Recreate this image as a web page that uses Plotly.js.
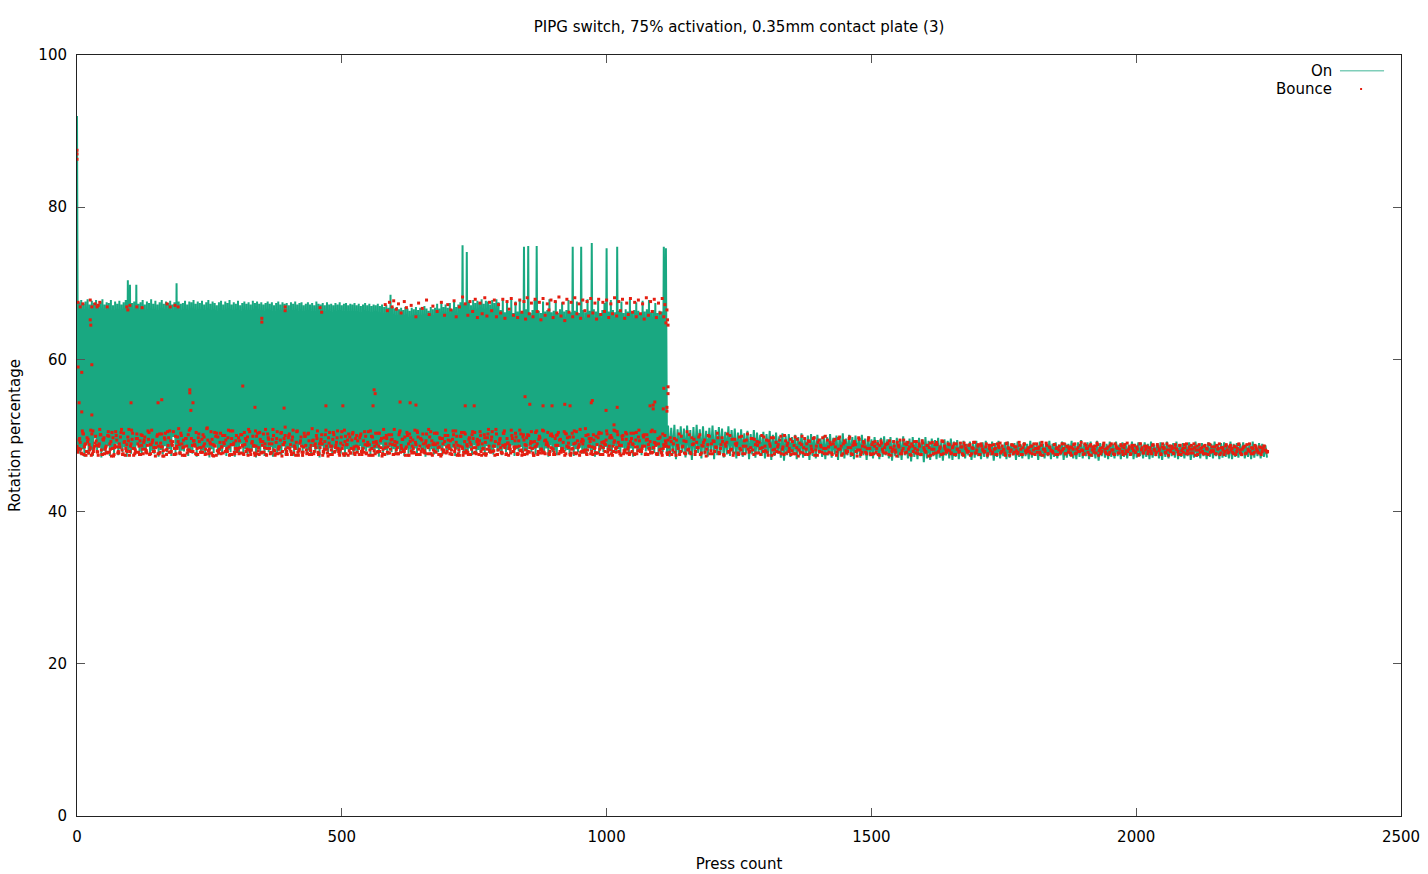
<!DOCTYPE html>
<html>
<head>
<meta charset="utf-8">
<script src="https://cdn.plot.ly/plotly-3.0.1.min.js"></script>
<style>html,body{margin:0;padding:0;background:#fff;}#chart{width:1428px;height:874px;}</style>
</head>
<body>
<div id="chart"></div>
<script>
// "On" rotation percentage, presses 0..1114 (every 2nd press)
const onStepA = 2;
const onA = [
92,48,67.5,47.6,67.8,48.2,67.3,47.2,67.6,48.8,67.9,47.5,67.2,48.1,67.7,47.3,67.4,49.6,67.8,47.8,
67.3,48.4,67.6,47.1,67.9,48,67.2,47.7,67.5,48.6,67.4,47.3,67.8,48.1,67.1,47.6,67.6,48.9,67.3,47.4,
67.7,48.2,67.2,47.8,67.5,48.5,67.8,47.2,70.4,48,69.8,47.6,67.4,48.3,67.6,47.5,69.8,48.7,67.3,47.9,
67.5,47.4,67.8,48.2,67.2,47.7,67.6,48.9,67.4,47.3,67.9,48,67.3,47.6,67.7,48.4,67.2,47.2,67.5,48.1,
67.8,47.5,67.3,48.6,67.6,47.8,67.4,48.2,67.7,47.3,67.2,49.8,67.5,47.7,70,48.3,67.6,47.4,67.3,48,
67.4,47.9,67.7,48.5,67.2,47.3,67.6,48.1,67.5,47.6,67.8,48.7,67.3,47.2,67.6,48.3,67.4,47.8,67.7,48,
67.2,47.5,67.5,48.4,67.8,47.1,67.3,48.2,67.6,47.7,67.4,48.8,67.1,47.4,67.5,48,67.7,47.6,67.2,48.5,
67.6,47.3,67.4,48.1,67.8,47.8,67.2,48.6,67.5,47.2,67.3,48.3,67.7,47.5,67.1,48.9,67.4,47.7,67.6,48.2,
67.3,47.4,67.5,48,67.2,47.9,67.7,48.4,67.4,47.1,67.6,48.2,67.3,47.6,67.5,48.7,67.2,47.3,67.4,48.1,
67.6,47.8,67.3,48.5,67.5,47.2,67.1,48.3,67.4,47.7,67.6,48,67.2,47.4,67.5,48.6,67.3,47.5,67.4,48.2,
67.1,47.9,67.5,48.4,67.3,47.3,67.6,48.1,67.2,47.6,67.4,48.8,67.5,47.2,67.1,48.3,67.3,47.7,67.5,48,
67.2,47.4,67.4,48.5,67.1,47.8,67.6,48.2,67.3,47.1,67.2,48.6,67.4,47.5,67.1,48,67.5,47.7,67.2,48.3,
67.3,47.3,67.1,48.4,67.4,47.9,67.2,48.1,67.5,47.6,67.1,48.7,67.3,47.2,67.4,48.2,67.1,47.8,67.3,48.5,
67.2,47.4,67.4,48,67.1,47.7,67.3,48.6,67,47.3,67.2,48.2,67.4,47.9,67.1,48.4,67.3,47.5,67,48.1,
67.2,47.6,67.1,48.3,67.3,47.2,67,48.8,67.2,47.7,66.9,48.1,67.1,47.4,66.8,48.5,68.5,47.8,66.9,48.2,
66.7,47.5,66.9,48.4,66.6,47.9,66.8,48,66.5,47.3,66.9,48.6,66.7,47.6,66.4,48.2,66.8,47.8,66.6,48.3,
66.9,47.4,66.5,48.7,66.8,47.7,66.6,48.1,67,47.2,66.7,48.5,66.4,47.9,66.9,48.2,66.6,47.5,66.8,48,
67.3,47.8,66.7,48.3,67.5,47.4,66.9,48.6,67.2,47.6,66.8,48.1,67.4,47.9,66.6,48.4,67.6,47.3,66.9,48.2,
67.2,47.7,67.5,48.5,75,47.5,67.3,48,74.1,47.9,67.6,48.3,67.1,47.4,67.8,48.7,67.4,47.6,67.7,48.1,
67.5,47.8,67.9,48.2,67.3,47.3,67.7,48.6,67.6,47.7,67.2,48.1,67.8,47.5,67.4,48.4,67.9,47.9,67.5,48,
66.5,47.4,67.8,48.3,66.2,47.8,67.5,48.1,66.4,47.6,67.9,48.7,66.1,47.3,67.6,48.2,66.3,47.9,67.7,48.5,
66.2,47.7,74.8,48,66.6,47.4,74.9,48.6,66.1,47.8,66.5,48.2,67.8,47.5,74.9,48.4,66.4,47.9,66.1,48.1,
67.6,47.6,66.3,48.3,66.5,47.2,67.9,48.7,66.2,47.8,66.4,48,67.7,47.4,66.1,48.5,66.6,47.7,67.5,48.2,
66.3,47.9,66.5,48.1,67.8,47.5,66.2,48.6,74.8,47.3,66.4,48.2,67.6,47.8,66.1,48.4,74.8,47.6,66.5,48,
66.2,47.4,67.9,48.3,66.4,47.9,75.3,48.1,66.6,47.2,66.3,48.7,67.7,47.6,66.1,48.2,66.5,47.8,67.4,48.5,
74.6,47.7,66.3,48,67.8,47.3,66.5,48.6,66.2,47.9,74.8,48.2,66.4,47.5,67.6,48.4,66.1,47.7,66.6,48.1,
66.3,47.6,67.9,48.3,66.2,47.2,66.5,48.7,67.5,47.8,66.4,48,66.1,47.4,67.7,48.5,66.3,47.9,66.6,48.2,
67.8,47.5,66.2,48.1,66.5,47.7,67.4,48.6,66.1,47.3,66.4,48.2,66.3,47.8,74.8,48.4,74.6,47.6
];
// "On" rotation percentage, presses 1116..2247 (every 3rd press)
const onStartB = 1116;
const onStepB = 3;
const onB = [
51.3,47.2,51,47.6,51.4,46.9,50.8,47.4,51.2,47.8,50.9,47.1,51.3,47.5,50.7,46.8,51.1,47.3,51.4,47.7,
50.8,47,51.2,47.5,50.6,47.2,51,47.8,51.3,46.9,50.7,47.4,51.1,47.6,50.9,47.1,50.5,47.5,51.2,47.3,
50.7,47.7,50.9,47,50.4,47.4,50.8,47.2,50.3,47.6,50.6,46.9,50.2,47.5,50.7,47.1,50.4,47.8,50.1,47.3,
50.5,47,50.2,47.5,50.6,46.8,50.1,47.3,50.4,47.6,49.9,47.1,50.3,46.7,50,47.4,50.2,47.2,49.8,47.6,
50.1,46.9,49.8,47.4,50.3,47.1,49.7,47.5,50,46.8,50.2,47.3,49.9,47,50.1,47.6,49.6,47.2,50,46.9,
49.8,47.4,50.2,47.1,49.7,47.5,50,46.8,49.9,47.3,50.3,47,49.6,47.4,50.1,47.2,49.8,46.9,50,47.5,
49.7,47.1,50.1,47.4,49.6,46.8,49.9,47.3,49.5,47,49.8,47.5,49.4,46.9,49.7,47.2,49.9,47.4,49.5,47,
49.8,46.7,49.4,47.3,49.7,47.1,49.5,46.8,49.9,47.4,49.3,47,49.6,46.6,49.8,47.2,49.4,46.9,49.7,47.3,
49.5,46.5,49.8,47,49.3,46.8,49.6,47.3,49.4,46.9,49.7,47.1,49.2,46.7,49.5,47.4,49.3,47,49.6,46.8,
49.2,47.2,49.4,46.9,49.1,47.3,49.3,47,48.9,47.4,49.2,46.8,49,47.1,49.3,47.3,48.9,46.9,49.1,47.2,
49.3,47,48.9,47.4,49.2,46.7,49,47.2,49.3,47,48.8,47.3,49.1,46.9,49.2,47.1,48.9,47.4,49,46.8,
49.2,47.2,48.8,47,49.1,47.3,48.9,46.9,49.3,47.1,49,47.4,48.8,46.8,49.2,47.2,48.9,47,49.1,47.3,
49.3,46.9,48.9,47.2,49.1,47,48.8,47.4,49.2,46.8,49,47.1,48.9,47.3,49.3,47,48.8,46.9,49.1,47.2,
49.4,47,48.9,47.3,49.1,46.9,49.2,47.2,48.8,47,49.3,46.7,49,47.3,49.1,47.1,48.9,46.9,49.2,47.2,
48.9,47,49.2,47.3,48.8,46.9,49.1,47.2,49,47,48.8,47.4,49.2,46.9,48.9,47.1,49.1,47.3,48.8,47,
49.1,47.2,48.9,46.9,49.2,47.1,48.8,47.3,49,47,49.1,46.8,48.9,47.2,49.2,47,48.8,47.3,49,47.1,
49.2,46.9,48.8,47.2,49,47,48.9,47.3,49.1,46.8,48.8,47.1,49.2,47.2,48.9,47,49,47.3,48.8,46.9,
49.1,47.2,48.9,47,49.2,47.3,48.8,46.9,49,47.1,49.1,47.2,48.8,47,49.2,46.9,48.9,47.2,49,47.1,
48.9,47.3,49.1,47,48.8,47.2,49,46.9,49.2,47.1,48.8,47.3,49,47,48.9,47.2,48.7,47.1
];
// Bounce rotation percentage, low band, presses 0,3,6,...
const bounceStep = 3;
const bounceLo1 = [
48.6,48.3,49.1,47.6,50.2,48.8,47.9,49.5,48.1,47.4,50.6,48.6,49.3,47.8,48.9,50.1,47.5,49.7,48.4,47.7,49.9,48.2,50.4,47.3,48.7,
49.4,47.9,48.5,50.8,47.6,49.2,48,49.8,47.4,48.9,50.3,48.3,47.8,49.6,48.6,47.5,50,49.1,48.2,47.7,49.5,48.8,50.7,47.9,48.4,
49,47.6,50.2,48.5,47.3,49.7,48.1,50.5,47.8,49.3,48.7,47.5,49.9,48.3,50.9,47.7,48.9,49.4,47.4,48.6,50.1,48,49.6,47.9,48.8,
50.4,47.5,49.2,48.4,47.8,49.8,48.2,51,47.6,48.9,49.5,47.3,48.6,50.3,47.9,49.1,48.5,47.7,50,48.1,49.7,47.4,48.8,50.6,47.8,
49.3,48.3,47.6,50.1,48.7,47.5,49.6,48.2,50.8,47.9,49,48.6,47.4,49.9,48,50.4,47.7,49.2,48.4,47.5,50.2,48.9,47.8,49.5,48.1,
47.6,50.5,48.5,49.4,47.3,48.8,50,47.9,49.7,48.3,47.5,50.7,48.6,49.1,47.8,48.2,49.8,47.4,50.3,48.7,47.7,49.3,48,50.9,47.6,
48.9,49.6,47.5,48.4,50.1,47.9,49.2,48.6,47.3,50.4,48.1,49.5,47.8,48.7,50.6,47.6,49,48.3,47.4,49.9,48.8,50.2,47.7,49.4,48.2,
47.5,50,48.5,49.7,47.9,48.3,50.5,47.6,49.1,48.8,47.4,49.8,48,50.3,47.8,48.6,49.3,47.3,50.8,48.4,49.6,47.7,48.9,50.1,47.5,
49.2,48.1,47.6,50.4,48.7,49.5,47.9,48.3,50,47.4,49.7,48.6,47.8,49.1,50.6,48.2,47.5,49.4,48.9,47.7,50.2,48.4,49.8,47.6,48.8,
50.3,47.8,49,48.5,47.3,49.6,48.1,50.7,47.9,48.7,49.3,47.5,50.1,48.3,49.9,47.6,48.6,50.4,47.4,49.2,48,47.8,49.7,48.8,50.5,
47.7,48.4,49.5,47.5,50,48.9,47.6,49.1,48.2,50.8,47.9,49.8,48.6,47.4,50.2,48.1,49.4,47.8,48.7,50.6,47.5,49,48.3,47.7,49.6,
48.5,50.3,47.6,49.3,48,47.4,50.1,48.8,49.7,47.9,48.4,50.5,47.7,49.2,48.6,47.5,49.9,48.2,50.7,47.8,49.4,48.9,47.6,50,48.3,
47.5,49.6,48.7,50.4,47.9,48.1,49.1,47.4,50.2,48.5,49.8,47.7,48.3,50.6,47.6,49.3,48.8,47.8,49.5,48,50.9,47.5,48.6,49.2,47.9,
50.1,48.4,47.7,49.7,48.2,50.3,47.5,48.9,49.4,47.8,48.6,50,47.4,49.1,48.3,50.5,47.9,48.7,49.9,47.6,48.1,50.2,48.5,47.7,49.6,
48.8,47.5,50.4,48,49.3,47.9,48.6,50.1,47.6,49.5,48.2,47.8,50.7,48.4,49,47.5,48.9,49.8,47.7,48.3,50,48.6,49.4,47.8,49.2,
48.1,49.6,47.4,48.7,50.2,47.9,48.5,49.3,47.6,50.5,48.2,47.8,49.7,48.9,47.5,49.1,48.4,50.1,47.7,48.6,49.4,47.3,48.8,49.9,48,
47.6,49.2,48.5,50.3,47.8,48.3,49.7,47.5,48.9,49.1,47.9,50,48.2,47.4,49.5,48.7,47.7,49.8,48.1,47.6,49.3,48.6,50.2,47.8,48.4,
49.6,47.5,48.8,49.2,47.7,48.3,50,47.9,48.6,49.4,47.4,48.9,49.7,48.1,47.6,49.1,48.5,47.8,49.9,48.2,47.5,49.3,48.7,47.9,49.5,
48,47.6,49.8,48.4,47.3,49,48.8,47.7,49.6,48.2,47.5,49.2,48.6,47.9,49.7,48.1,47.4,49.4,48.7,47.8,48.3,49.9,47.6,48.5,49.1,
47.7,48.9,49.5,47.4,48.2,49.8,48.6,47.6,49.3,48,47.9,49.6,48.4,47.5,49,48.8,47.3,49.7,48.1,47.8,49.2,48.5,47.6,49.4,48.3,
47.5,49.1,48.6,47.8,48.9,47.4,49.3,48.2,47.7,48.8,49,47.5,48.4,47.9,49.2,48.1,47.3,48.7,49.4,47.6,48.3,48.9,47.8,49.1,48.5,
47.4,48.6,49.2,47.7,48.1,48.9,47.5,49.3,48.4,47.9,48.7,47.3,49,48.2,47.6,48.8,49.1,47.8,48.3,47.5,49.2,48.6,47.9,48.1,48.8,
47.6,48.4,48.9,47.5,48.2,47.8,49,48.5,47.4,48.7,48.1,47.9,48.8,47.6,48.3,49.1,47.7,48.6,47.5,48.9,48.2,47.8,48.5,47.4,48.7,
48,47.6,48.8,48.3,47.5,48.6,49,47.9,48.2,47.7,48.9,48.4,47.4,48.1,48.7,47.8,48.5,47.6,49.1,48.2,47.5,48.8,48,47.9,48.4,
47.7,48.6,48.1,47.5,48.9,48.3,47.8,48.7,47.4,48.2,49,47.6,48.5,48,47.9,48.8,47.5,48.4,48.1,47.7,48.9,48.3,47.6,48.6,47.8,
48.5,47.4,48.2,48.9,47.7,48.4,47.9,49.1,48,47.6,48.7,48.3,47.5,48.8,48.1,47.8,48.6,49,47.4,48.3,47.9,48.7,48.2,47.6,48.5,
47.8,48.9,48.1,47.5,48.6,48.3,47.7,48.8,47.9,48.4,47.6,49,48.2,47.5,48.7,48,47.8,48.5,47.4,48.9,48.1,47.7,48.6,48.3,47.6,
48.4,47.9,48.7,48.2,47.5,48.8,48,47.6,48.5,48.3,47.8,48.9,47.4,48.1,48.6,47.7,48.4,48.2,47.9,48.7,47.5,48.3,48.8,47.6,48,
48.5,47.7,48.2,48.9,47.4,48.6,48.1,47.8,48.4,47.6,48.7,48.3,47.5,48.8,48,47.9,48.5,47.6,48.2,48.9,47.7,48.4,47.5,48.6,48.1,
47.8,48.7,48.3,47.6,48.5,47.9,48.8,48.1,47.5,48.4,48.6,47.7,48.2,48.9,47.6,48.3,47.8,48.5,48,47.7,48.4,47.9,48.6,48.1,47.8
];
// Bounce rotation percentage, low band, presses 1,4,7,...
const bounceLo2 = [
47.8,49.4,48.2,50.6,47.5,48.9,49.7,47.7,48.4,50.2,47.9,49,48.7,47.4,50.8,48.1,49.5,47.6,48.6,50,47.8,49.2,48.3,47.5,50.5,
48.5,47.7,49.8,48.1,50.3,47.4,48.8,49.3,47.9,50.7,48.3,47.6,49.6,48.9,47.5,50.1,48.2,49.4,47.8,48.7,50.4,47.6,49.1,48.4,47.3,
49.9,48.6,47.8,50.2,48,49.5,47.5,48.7,50.6,47.9,49.2,48.3,47.6,49.8,48.8,50.3,47.4,48.5,49.6,47.7,48.1,50.9,47.9,49.3,48.6,
47.5,49.7,48.4,47.8,50.1,48.9,47.6,49.4,48.2,50.5,47.4,48.7,49.9,48,47.7,50.3,48.5,49.1,47.9,48.3,50.7,47.5,49.6,48.8,47.6,
50,48.2,49.3,47.7,48.6,50.4,47.9,49.8,48.1,47.5,49.2,48.7,50.6,47.6,48.4,49.5,47.8,50.2,48.9,47.4,49.7,48.3,47.7,50.8,48,
49.1,47.6,48.5,50.3,47.9,49.6,48.2,47.5,50,48.8,49.4,47.7,48.3,50.5,47.4,49,48.6,47.8,49.9,48.1,50.2,47.5,48.7,49.3,47.9,
48.4,50.6,47.6,49.2,48.9,47.8,50.1,48.2,49.7,47.5,48.6,50.4,47.9,49.1,48.3,47.4,49.8,48.7,50.7,47.6,49.4,48,47.7,50.2,48.5,
49.6,47.8,48.3,50,47.5,49.3,48.8,47.7,50.5,48.1,49.9,47.4,48.6,49.2,47.9,50.3,48.4,47.6,49.7,48.9,47.8,50.1,48.2,49.5,47.5,
48.7,49.1,47.6,50.6,48.3,47.9,49.8,48.5,47.4,50.2,48,49.4,47.7,48.8,50.4,47.5,49.6,48.2,47.8,49,48.6,50.8,47.6,49.3,48.1,
47.9,50.3,48.4,49.7,47.5,48.9,49.2,47.7,50,48.3,47.6,49.5,48.7,50.6,47.4,48.1,49.9,48.5,47.8,50.2,48.8,47.5,49.1,48.2,49.6,
50.4,47.6,48.8,49.3,47.9,48.2,50.1,47.4,49.7,48.6,47.8,50.5,48,49.2,47.5,48.9,49.6,47.7,50.3,48.4,47.6,49,48.7,50.7,47.9,
48.3,49.8,47.5,48.6,50.2,47.8,49.4,48.1,47.6,50,48.9,49.1,47.4,48.5,50.6,47.9,49.7,48.2,47.7,49.3,48.8,50.4,47.5,48.4,49.9,
47.8,48.7,50.1,47.6,49.5,48.3,47.9,50.3,48.6,49,47.5,48.2,49.8,47.7,50.5,48.4,47.4,49.2,48.9,47.8,50,48.1,49.6,47.6,48.5,
49.4,47.7,48.8,50.2,47.5,49.1,48.4,47.9,50.6,48.2,49.7,47.6,48.6,49.3,47.8,50.1,48.7,47.4,49.5,48,50.4,47.7,48.9,49.2,47.9,
50.3,48.5,47.6,49.8,48.1,47.9,50,48.6,49.4,47.5,48.3,50.5,47.8,49.1,48.7,47.6,49.6,48.2,47.4,48.8,49.3,47.7,48.5,49.7,47.5,
48.9,47.8,49.4,48.3,47.5,49.9,48.6,47.7,49.2,48.1,50.1,47.6,48.8,49.5,47.9,48.4,49.8,47.5,48.7,49.1,47.8,48.2,50,47.6,48.9,
49.3,47.9,48.4,49.7,47.6,48.8,49.2,47.4,48.6,50.2,47.8,48.1,49.5,47.7,48.9,49,47.5,48.3,49.9,48.6,47.6,49.4,48.2,47.9,49.6,
48.1,49.5,47.7,48.7,49.1,47.5,48.4,49.8,48,47.8,49.3,48.6,47.4,49.7,48.2,47.9,48.8,49.4,47.6,48.5,50,47.7,49,48.3,47.5,
49.2,48.7,47.6,49.5,48.1,47.8,49.9,48.4,47.5,48.9,49.3,47.7,48.2,49.6,47.4,48.6,49.1,47.9,48.5,49.7,47.6,48.3,49.4,47.8,48.8,
47.5,49.3,48.5,47.8,49.6,48.2,47.4,48.9,49.1,47.7,48.4,49.8,47.6,48.7,49.2,47.9,48.1,49.5,47.5,48.6,49,47.8,48.3,49.7,47.6,
48.8,47.6,49.2,48.3,47.5,48.7,49,47.9,48.4,47.7,48.9,49.3,47.4,48.2,48.6,47.8,49.1,48.5,47.6,48,49.4,47.7,48.8,48.2,47.5,
48.9,47.9,48.3,49.2,47.6,48.6,47.5,49,48.1,47.8,48.7,48.4,47.4,49.1,48.2,47.7,48.8,47.9,48.5,49.3,47.6,48.3,47.8,48.9,48,
47.7,48.6,47.5,48.9,48.2,47.9,48.5,47.6,49,48.3,47.8,48.7,47.4,48.4,49.1,47.7,48.1,48.8,47.5,48.6,48,47.9,48.9,47.6,48.3,
48.7,47.8,48.2,47.5,48.9,48.4,47.7,48.6,48.1,47.4,49,48.3,47.9,48.8,47.6,48.5,48,47.8,48.7,47.5,48.4,48.9,47.7,48.2,47.9,
48.6,47.6,48.9,48.3,47.8,48.5,47.5,49.1,48.2,47.9,48.7,47.6,48.4,48,47.7,48.8,48.3,47.5,48.6,47.9,48.1,48.9,47.6,48.5,48.2,
47.7,48.4,48.8,47.6,48.2,47.9,48.7,48.1,47.5,48.9,48.3,47.8,48.6,47.4,48.5,48.2,47.7,48.8,48,47.6,48.4,49,47.8,48.3,47.5,
48.7,48.1,47.6,48.9,48.4,47.7,48.2,48.6,47.5,48.8,48,47.9,48.5,47.6,48.3,48.7,47.8,48.2,47.5,48.9,48.4,47.7,48.1,48.6,47.9,
48.3,47.6,48.8,48,47.8,48.5,48.2,47.5,48.9,48.4,47.7,48.1,48.6,47.9,48.3,47.6,48.8,48.2,47.5,48.7,48,47.8,48.4,48.9,47.6,
48.2,48.7,47.7,48.4,48.1,47.5,48.8,48.3,47.9,48.6,47.6,48.2,48.9,47.8,48.5,48,47.6,48.7,48.3,47.5,48.4,48.1,47.9,48.8,47.7,
48.5,48.1,47.8,48.6,47.5,48.3,48.9,47.7,48.2,48.5,47.6,48.8,48,47.9,48.4,47.6,48.7,48.2,47.8,48.5,47.5,48.3,48.6,48,47.9
];
// Bounce rotation percentage, low band, presses 2,5,8,... up to 1115
const bounceLo3 = [
48.1,49.6,47.7,50.3,48.5,47.4,49.2,48.8,50.7,47.6,48.3,49.9,47.9,48.6,50.1,47.5,49.4,48.2,47.8,50.5,48.9,47.3,49.7,48.4,50,
47.7,48.9,50.4,47.5,49.1,48.3,47.9,50.8,48.6,49.5,47.4,48.1,50.2,47.8,49.3,48.7,47.6,49.8,48,50.6,47.5,48.8,49.4,47.9,48.4,
50.1,47.6,49,48.5,47.3,50.3,48.2,49.7,47.8,48.9,50.5,47.5,48.6,49.2,47.7,50,48.4,47.4,49.6,48.1,50.7,47.9,48.7,49.3,47.6,
48.3,50.2,47.8,49.5,48.6,47.5,50.9,48,49.1,47.7,48.8,50.4,47.4,49.8,48.2,47.6,50,48.9,49.4,47.9,48.5,50.6,47.5,49,48.3,
47.9,49.7,48.4,50.1,47.6,48.8,49.3,47.4,50.5,48.1,49.9,47.7,48.6,50.3,47.5,49.2,48.7,47.8,50.8,48.3,49.5,47.6,48.9,50,47.4,
49.6,48.2,47.7,50.4,48.8,49.1,47.5,48.4,50.2,47.9,49.8,48.6,47.4,50.6,48,49.3,47.8,48.5,49.9,47.6,50.3,48.3,47.5,49.4,48.7,
50,47.8,48.9,49.5,47.4,48.2,50.7,47.7,49,48.6,47.5,50.1,48.4,49.7,47.9,48.1,50.5,47.6,49.2,48.8,47.4,49.8,48.3,50.4,47.7,
48.6,49.3,47.5,50.2,48,47.8,49.9,48.7,47.4,50.6,48.3,49.1,47.6,48.9,50.3,47.9,49.6,48.2,47.5,50,48.5,47.7,49.4,48.8,50.8,
47.6,48.4,50.1,47.8,49.5,48.1,47.4,50.4,48.9,49.2,47.7,48.3,50.7,47.5,49.8,48.6,47.9,50.2,48,49.3,47.6,48.7,50.5,47.4,49,
48.8,50.3,47.5,49.6,48.2,47.8,50,48.5,49.4,47.6,48.1,50.6,47.9,49.1,48.7,47.4,49.9,48.3,50.4,47.7,48.6,49.5,47.5,50.1,48.4,
47.8,49.2,48.9,50.5,47.4,48.3,49.7,47.6,50.2,48.1,49.4,47.9,48.6,50.8,47.5,49,48.4,47.7,50.3,48.8,49.6,47.4,48.2,50,47.9,
49.3,48.5,47.6,50.7,48.1,49.8,47.5,48.7,50.1,47.8,49.2,48.3,47.4,50.4,48.9,49.5,47.7,48,50.6,47.6,49.1,48.6,47.9,50.2,48.2,
47.5,50,48.7,49.4,47.8,48.2,50.5,47.6,49.7,48.4,47.4,50.3,48.9,49,47.7,48.5,50.8,47.9,49.3,48.1,47.6,50.1,48.6,49.6,47.5,
48.3,49.9,47.7,50.4,48.6,47.5,49.2,48.8,50.2,47.4,48.1,49.7,47.9,50.6,48.4,49.1,47.6,48.7,50,47.8,49.5,48.2,47.5,50.3,48.9,
47.6,49.4,48.5,50.7,47.9,48.3,49.8,47.5,50.1,48.8,49.2,47.7,48.4,50.5,47.6,49.6,48.1,47.8,50.2,48.6,49,47.5
];
// Bounce points away from the low band: [press, rotation %]
const bounceOther = [
[0,87.5],[0,87],[0,86.3],
[2,67.5],[6,66.9],[11,67.3],[25,67.8],[28,66.9],[34,67.3],[38,66.9],[40,67.1],[43,67.5],[57,66.9],
[94,66.9],[96,66.5],[100,67.1],[113,66.9],[123,66.8],[170,67.3],[176,66.9],[185,67.1],[191,66.9],
[349,65.4],[349,64.9],[393,66.9],[393,66.4],[459,66.8],[462,66.2],
[2,59],[9,58.3],[25,65.2],[26,64.5],[28,59.3],[28,52.7],[4,54.3],[9,53.1],[102,54.3],[153,54.3],[160,54.7],
[213,56],[213,55.6],[219,54.3],[215,53.3],[313,56.5],[336,53.7],[391,53.6],[393,51.1],[470,53.9],[502,53.9],
[559,53.9],[561,56],[563,55.5],[610,54.4],[629,54.3],[640,54],[733,53.9],[750,53.9],[846,55.1],[855,54.1],
[880,53.9],[897,53.9],[921,54.1],[931,53.9],[971,54.3],[973,54.6],[999,53.3],[1014,51.4],[1014,50.7],[1020,53.7],
[1082,53.9],[1088,54],[1088,53.5],[1091,54.4],[1107,53.5],[1108,56.2],[1114,53.7],[1114,53.2],[1116,56.4],[1116,55.5],
[582,67.2],[586,66.4],[590,67.5],[595,66.9],[598,67.7],[603,66.6],[607,67.3],[612,66.1],[618,67.6],[622,66.8],
[631,67.1],[640,65.6],[645,67.4],[652,66.7],[660,67.8],[665,65.9],[672,67],[680,66.3],[688,67.5],[694,65.8],
[700,67.2],[706,66.5],[712,67.7],[716,65.6],[722,66.9],[728,68.2],[733,67.3],[738,65.8],[742,67.6],[747,66.3],
[752,67.9],[756,65.5],[761,67.4],[765,66],[770,68.1],[774,65.7],[779,67.5],[783,66.4],[788,67.8],[792,65.6],
[796,67.2],[800,66.1],[804,67.9],[808,65.4],[812,67.6],[816,66.6],[820,68],[824,65.8],[828,67.3],[832,65.5],
[836,67.8],[840,66.2],[844,67.6],[847,65.3],[850,68.1],[854,66],[858,67.4],[861,65.6],[865,67.9],[869,66.3],
[873,67.5],[876,65.2],[880,68],[884,65.8],[888,67.3],[891,66.5],[895,67.8],[899,65.5],[903,67.6],[906,66.1],
[910,68.2],[914,65.7],[918,67.4],[921,65.1],[925,67.9],[929,66.2],[933,67.5],[936,65.6],[940,68.1],[944,66],
[948,67.3],[951,65.4],[955,67.8],[959,66.4],[963,67.6],[966,65.7],[970,68],[974,66.1],[978,67.4],[981,65.3],
[985,67.9],[989,65.9],[993,67.5],[996,66.3],[1000,67.8],[1004,65.5],[1008,67.3],[1011,66],[1015,68.1],[1019,65.7],
[1023,67.6],[1026,66.4],[1030,67.9],[1034,65.4],[1038,67.4],[1041,65.9],[1045,68],[1049,66.2],[1053,67.5],[1056,65.6],
[1060,67.8],[1064,66],[1068,67.3],[1071,65.3],[1075,68.1],[1079,65.8],[1083,67.6],[1086,66.3],[1090,67.9],[1094,65.5],
[1098,67.4],[1101,66.1],[1105,68],[1108,65.6],[1110,67.2],[1112,64.8],[1114,66.5],[1115,65.2],[1116,64.5]
];
const xTicks = [0, 500, 1000, 1500, 2000, 2500];
const yTicks = [0, 20, 40, 60, 80, 100];

const onX = onA.map((_, i) => i * onStepA).concat(onB.map((_, i) => onStartB + i * onStepB));
const onY = onA.concat(onB);
const bX = bounceLo1.map((_, i) => i * bounceStep)
  .concat(bounceLo2.map((_, i) => i * bounceStep + 1))
  .concat(bounceLo3.map((_, i) => i * bounceStep + 2))
  .concat(bounceOther.map(p => p[0]));
const bY = bounceLo1.concat(bounceLo2).concat(bounceLo3).concat(bounceOther.map(p => p[1]));

const FONT = 'DejaVu Sans, Liberation Sans, sans-serif';
const FS = 15;
const onColor = 'rgba(0,158,115,0.9)';
const bounceColor = '#e51e10';

const traces = [
  {type: 'scatter', mode: 'lines', name: 'On', x: onX, y: onY,
   line: {color: onColor, width: 2, simplify: false}, hoverinfo: 'skip', showlegend: false},
  {type: 'scatter', mode: 'markers', name: 'Bounce', x: bX, y: bY,
   marker: {symbol: 'square', size: 3, color: bounceColor, line: {width: 0}},
   hoverinfo: 'skip', showlegend: false}
];

const axisCommon = {
  showgrid: false, zeroline: false, showline: true, linecolor: '#222', linewidth: 1,
  mirror: 'ticks', ticks: 'inside', ticklen: 8, tickcolor: '#555', tickwidth: 1,
  tickfont: {family: FONT, size: FS, color: '#000'}, fixedrange: true
};

const layout = {
  width: 1428, height: 874,
  margin: {l: 77, r: 27, t: 55, b: 58},
  paper_bgcolor: '#fff', plot_bgcolor: '#fff',
  title: {text: 'PIPG switch, 75% activation, 0.35mm contact plate (3)',
          font: {family: FONT, size: FS, color: '#000'},
          x: 0.5, xref: 'paper', y: 1 - 27 / 874, yref: 'container', yanchor: 'middle'},
  xaxis: Object.assign({}, axisCommon, {
    range: [0, 2500], tickvals: xTicks, ticktext: xTicks.map(String), ticklabelstandoff: 7,
    title: {text: 'Press count', font: {family: FONT, size: FS, color: '#000'}, standoff: 13}
  }),
  yaxis: Object.assign({}, axisCommon, {
    range: [0, 100], tickvals: yTicks, ticktext: yTicks.map(String), ticklabelstandoff: 6,
    title: {text: 'Rotation percentage', font: {family: FONT, size: FS, color: '#000'}, standoff: 14}
  }),
  annotations: [
    {text: 'On', xref: 'paper', yref: 'paper', x: 0.9494, y: 0.9794, xanchor: 'right', yanchor: 'middle',
     showarrow: false, font: {family: FONT, size: FS, color: '#000'}},
    {text: 'Bounce', xref: 'paper', yref: 'paper', x: 0.9494, y: 0.9553, xanchor: 'right', yanchor: 'middle',
     showarrow: false, font: {family: FONT, size: FS, color: '#000'}}
  ],
  shapes: [
    {type: 'line', xref: 'paper', yref: 'paper', x0: 0.9539, x1: 0.9872, y0: 0.9794, y1: 0.9794,
     line: {color: 'rgba(0,158,115,0.5)', width: 1.5}},
    {type: 'rect', xref: 'paper', yref: 'paper', x0: 0.9691, x1: 0.9706, y0: 0.9540, y1: 0.9566,
     fillcolor: bounceColor, line: {width: 0}}
  ]
};

Plotly.newPlot('chart', traces, layout, {displayModeBar: false, staticPlot: true});
</script>
</body>
</html>
